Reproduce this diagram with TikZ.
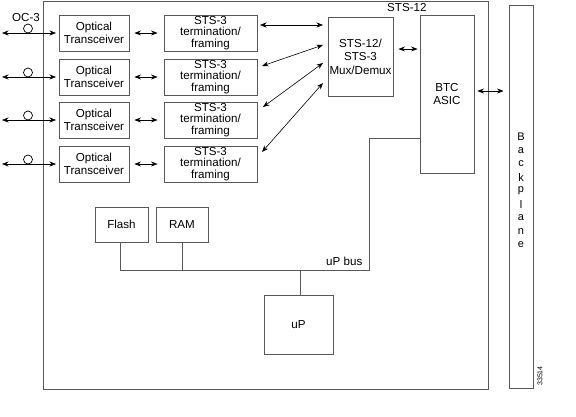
\documentclass[tikz,border=0pt]{standalone}
\usepackage{fontspec}
\setmainfont{Liberation Sans}
\usetikzlibrary{arrows.meta,calc}
\tikzset{
  box/.style={draw=black!65, line width=0.9pt, inner sep=0pt, align=center,
    font=\fontsize{11.6}{12.8}\selectfont},
  arr/.style={{Stealth[length=6.5pt,width=5pt]}-{Stealth[length=6.5pt,width=5pt]}, line width=0.6pt},
  wire/.style={draw=black!65, line width=0.8pt},
  lbl/.style={inner sep=0pt, font=\fontsize{11.6}{12}\selectfont}
}
\begin{document}
\begin{tikzpicture}[x=1pt,y=-1pt]
\useasboundingbox (0,0) rectangle (576,416);
% outer board
\node[box, minimum width=445, minimum height=388] (board) at (265.5,195) {};
\node[lbl, anchor=west] (sts12) at (387,8) {STS-12};
% backplane
\node[box, minimum width=24, minimum height=383] (bp) at (521,196.5) {};
\foreach \c [count=\i from 0] in {B,a,c,k,p,l,a,n,e}
  \node[lbl, font=\fontsize{11}{12}\selectfont] (bpl\i) at (521,137+13.5*\i) {\c};
\node[lbl, rotate=90, font=\fontsize{7}{8}\selectfont] (fig) at (540,376) {33514};
% rows
\foreach \i/\y in {1/33,2/77,3/120,4/164}{
  \node[box, minimum width=70, minimum height=36] (o\i) at (94,\y) {Optical\\Transceiver};
  \node[box, minimum width=93, minimum height=36, font=\fontsize{11.6}{11.2}\selectfont] (s\i) at (210.5,\y) {STS-3\\termination/\\framing};
  \coordinate (ext\i) at (2,\y);
  \coordinate (extb\i) at (56,\y);
  \draw[arr] (ext\i) -- (extb\i);
  \draw[black, line width=0.7pt, fill=white] (28,\y-4.5) circle (4.5);
  \draw[arr] ($(o\i.east)+(5,0)$) -- ($(s\i.west)+(-6,0)$);
}
\node[lbl, anchor=west] (oc3) at (12,18) {OC-3};
% mux
\node[box, minimum width=65, minimum height=79, font=\fontsize{11.6}{13.5}\selectfont] (mux) at (360.5,56.5) {STS-12/\\STS-3\\Mux/Demux};
\coordinate (m1) at (323,25);
\coordinate (m2) at (323,45);
\coordinate (m3) at (323,63);
\coordinate (m4) at (323,83);
\coordinate (t1) at (260,25);
\coordinate (t2) at (262,66);
\coordinate (t3) at (263,107);
\coordinate (t4) at (262,152);
\foreach \i in {1,2,3,4} \draw[arr] (t\i) -- (m\i);
% ASIC
\node[box, minimum width=54, minimum height=158, font=\fontsize{11.6}{13}\selectfont] (asic) at (447,94) {BTC\\ASIC};
\draw[arr] ($(mux.east)+(5,-7.5)$) -- ($(asic.west)+(-2,-45)$);
\draw[arr] ($(asic.east)+(3,-3)$) -- ($(bp.west)+(-5,-105.5)$);
% memory and uP
\node[box, minimum width=53, minimum height=35] (flash) at (121.5,224.5) {Flash};
\node[box, minimum width=52, minimum height=35] (ram) at (182,224.5) {RAM};
\node[box, minimum width=69, minimum height=59] (up) at (298.5,324.5) {uP};
\coordinate (busL) at (120,270);
\coordinate (busR) at (369,270);
\coordinate (busT) at (369,138);
\coordinate (busRam) at (182,270);
\coordinate (busUp) at (300,270);
\draw[wire] (flash.south -| busL) -- (busL) -- (busR) -- (busT) -- (busT -| asic.west);
\draw[wire] (ram.south -| busRam) -- (busRam);
\draw[wire] (busUp) -- (busUp |- up.north);
\node[lbl, anchor=west] (busl) at (326,261) {uP bus};
\end{tikzpicture}
\end{document}
